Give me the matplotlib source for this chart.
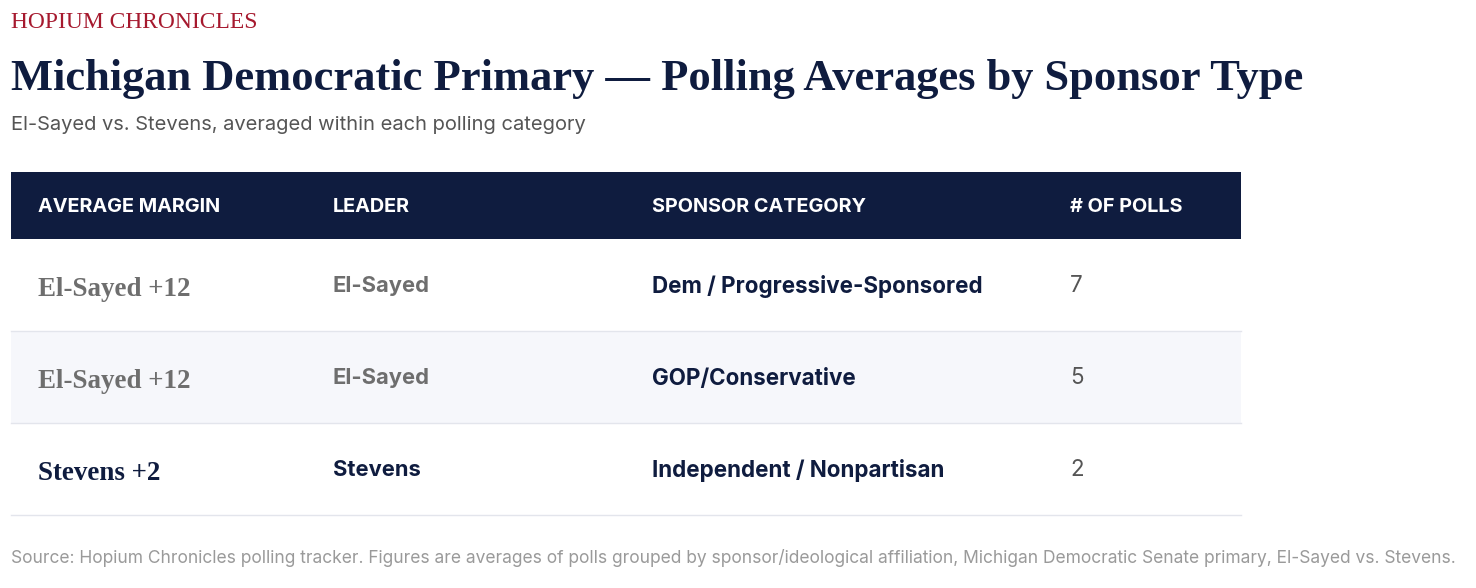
import matplotlib
matplotlib.use('Agg')
import matplotlib.pyplot as plt
from matplotlib.patches import Rectangle

# table data
columns = ['AVERAGE MARGIN', 'LEADER', 'SPONSOR CATEGORY', '# OF POLLS']
margins = ['El-Sayed +12', 'El-Sayed +12', 'Stevens +2']
leaders = ['El-Sayed', 'El-Sayed', 'Stevens']
sponsors = ['Dem / Progressive-Sponsored', 'GOP/Conservative', 'Independent / Nonpartisan']
polls = [7, 5, 2]

NAVY = '#0f1c3f'
GREY = '#6e6e6e'
RED = '#a6192e'
SERIF = 'Liberation Serif'
SANS = 'Inter'

W, H = 1476, 588
fig = plt.figure(figsize=(W / 100, H / 100), dpi=100)
fig.patch.set_facecolor('white')
ax = fig.add_axes([0, 0, 1, 1])
ax.set_xlim(0, W)
ax.set_ylim(H, 0)
ax.axis('off')
renderer = fig.canvas.get_renderer()


def fit(t, width):
    # scale font so the text spans the given pixel width
    w = t.get_window_extent(renderer).width
    t.set_fontsize(t.get_fontsize() * width / w)
    return t.get_fontsize()


# titles
t = ax.text(11, 28, 'HOPIUM CHRONICLES', color=RED, family=SERIF,
            fontsize=14, va='baseline')
fit(t, 248)
t = ax.text(11, 90, 'Michigan Democratic Primary \u2014 Polling Averages by Sponsor Type',
            color=NAVY, family=SERIF, fontweight='bold', fontsize=30, va='baseline')
fit(t, 1289)
t = ax.text(11, 130, 'El-Sayed vs. Stevens, averaged within each polling category',
            color='#555555', family=SANS, fontsize=13, va='baseline')
fit(t, 575)

# table geometry
x0, x1 = 11, 1241
head_top, head_h, row_h = 172, 67, 92
col_x = [38, 333, 652, 1070]

ax.add_patch(Rectangle((x0, head_top), x1 - x0, head_h, color=NAVY, lw=0))
hs = None
for x, name in zip(col_x, columns):
    t = ax.text(x, head_top + 40, name, color='white', family=SANS,
                fontweight='bold', fontsize=12.5, va='baseline')
    if hs is None:
        hs = fit(t, 183)
    else:
        t.set_fontsize(hs)

row_top = head_top + head_h
ms = ls = lds = None
for i in range(len(margins)):
    top = row_top + i * row_h
    if i % 2 == 1:
        ax.add_patch(Rectangle((x0, top), x1 - x0, row_h, color='#f6f7fb', lw=0))
    ax.plot([x0, x1], [top + row_h, top + row_h], color='#e3e5ec', lw=1)
    c = row_top + i * row_h + 46
    lead_col = NAVY if leaders[i] == 'Stevens' else GREY
    t = ax.text(col_x[0], c + 10.5, margins[i], color=lead_col, family=SERIF,
                fontweight='bold', fontsize=18, va='baseline')
    if ms is None:
        ms = fit(t, 153)
    else:
        t.set_fontsize(ms)
    t = ax.text(col_x[1], c + 7.5, leaders[i], color=lead_col, family=SANS,
                fontweight='bold', fontsize=14, va='baseline')
    if lds is None:
        lds = fit(t, 97)
    else:
        t.set_fontsize(lds)
    t = ax.text(col_x[2], c + 7.5, sponsors[i], color=NAVY, family=SANS,
                fontweight='bold', fontsize=14, va='baseline')
    if ls is None:
        ls = fit(t, 331)
    else:
        t.set_fontsize(ls)
    ax.text(col_x[3], c + 7.5, str(polls[i]), color='#555555', family=SANS,
            fontsize=ls, va='baseline')

t = ax.text(11, 563, 'Source: Hopium Chronicles polling tracker. Figures are averages of polls '
            'grouped by sponsor/ideological affiliation, Michigan Democratic Senate primary, '
            'El-Sayed vs. Stevens.', color='#9a9a9a', family=SANS, fontsize=11, va='baseline')
fit(t, 1440)

fig.savefig('out.png', dpi=100, facecolor='white')
